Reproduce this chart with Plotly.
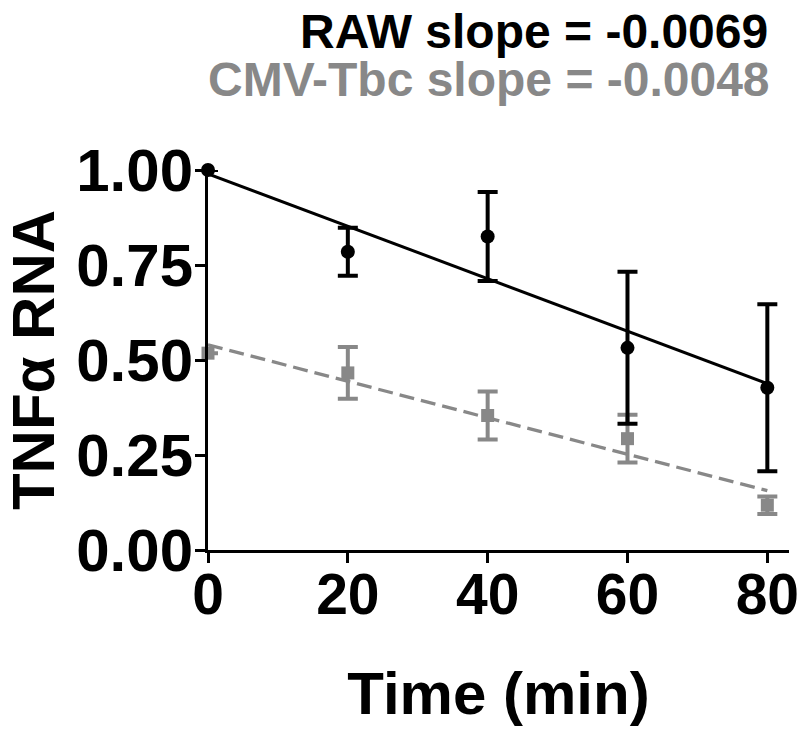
import plotly.graph_objects as go

# Data
time = [0, 20, 40, 60, 80]
raw_mean = [1.00, 0.785, 0.825, 0.532, 0.427]
raw_err = [0.0, 0.063, 0.117, 0.200, 0.220]
cmv_mean = [0.518, 0.466, 0.354, 0.293, 0.118]
cmv_err = [0.0, 0.068, 0.063, 0.063, 0.023]

raw_intercept, raw_slope = 0.99, -0.0069
cmv_intercept, cmv_slope = 0.54, -0.0048
fit_x = [0, 80]

x_ticks = [0, 20, 40, 60, 80]
y_ticks = [0.0, 0.25, 0.5, 0.75, 1.0]

FONT = "Liberation Sans, Arial, sans-serif"
GRAY = "#888888"

fig = go.Figure()

fig.add_trace(go.Scatter(
    x=fit_x, y=[cmv_intercept + cmv_slope * x for x in fit_x],
    mode="lines", line=dict(color=GRAY, width=3.3, dash="15px,7px"),
    showlegend=False, cliponaxis=False, hoverinfo="skip"))
fig.add_trace(go.Scatter(
    x=fit_x, y=[raw_intercept + raw_slope * x for x in fit_x],
    mode="lines", line=dict(color="black", width=3),
    showlegend=False, cliponaxis=False, hoverinfo="skip"))

fig.add_trace(go.Scatter(
    x=time, y=cmv_mean, mode="markers",
    marker=dict(symbol="square", size=13, color=GRAY),
    error_y=dict(type="data", array=cmv_err, visible=True, color=GRAY, thickness=4, width=10),
    showlegend=False, cliponaxis=False))
fig.add_trace(go.Scatter(
    x=time, y=raw_mean, mode="markers",
    marker=dict(symbol="circle", size=14, color="black"),
    error_y=dict(type="data", array=raw_err, visible=True, color="black", thickness=4, width=10),
    showlegend=False, cliponaxis=False))

fig.update_layout(
    width=800, height=739,
    paper_bgcolor="white", plot_bgcolor="white",
    margin=dict(l=208, r=11, t=170, b=189),
    font=dict(family=FONT, color="black", size=60, weight="bold"),
    annotations=[
        dict(text="RAW slope = -0.0069", xref="paper", yref="paper",
             x=(770 - 208) / 581, y=1 + (170 - 31) / 380, xanchor="right", yanchor="middle",
             showarrow=False, font=dict(family=FONT, size=48, color="black", weight="bold")),
        dict(text="CMV-Tbc slope = -0.0048", xref="paper", yref="paper",
             x=(772 - 208) / 581, y=1 + (170 - 80) / 380, xanchor="right", yanchor="middle",
             showarrow=False, font=dict(family=FONT, size=48, color=GRAY, weight="bold")),
    ],
)

fig.update_xaxes(
    range=[0, 83.1], tickvals=x_ticks, ticktext=[str(v) for v in x_ticks],
    showline=True, linecolor="black", linewidth=3,
    ticks="outside", ticklen=10, tickwidth=3, tickcolor="black",
    showgrid=False, zeroline=False, automargin=False,
    ticklabeloverflow="allow", ticklabelstandoff=-17,
    tickfont=dict(family=FONT, size=57, weight="bold"),
    title=dict(text="Time (min)", font=dict(family=FONT, size=60, weight="bold"), standoff=47),
)
fig.update_yaxes(
    range=[0, 1.0], tickvals=y_ticks, ticktext=[f"{v:.2f}" for v in y_ticks],
    showline=True, linecolor="black", linewidth=3,
    ticks="outside", ticklen=10, tickwidth=3, tickcolor="black",
    showgrid=False, zeroline=False, automargin=False,
    ticklabeloverflow="allow", ticklabelstandoff=-10,
    tickfont=dict(family=FONT, size=60, weight="bold"),
    title=dict(text="TNFα RNA", font=dict(family=FONT, size=60, weight="bold"), standoff=41),
)

# remove the default 8px page margin so the figure sits at the window's top-left corner
fig.write_html("out.html", config={"displayModeBar": False},
               post_script="document.body.style.margin='0px';")
